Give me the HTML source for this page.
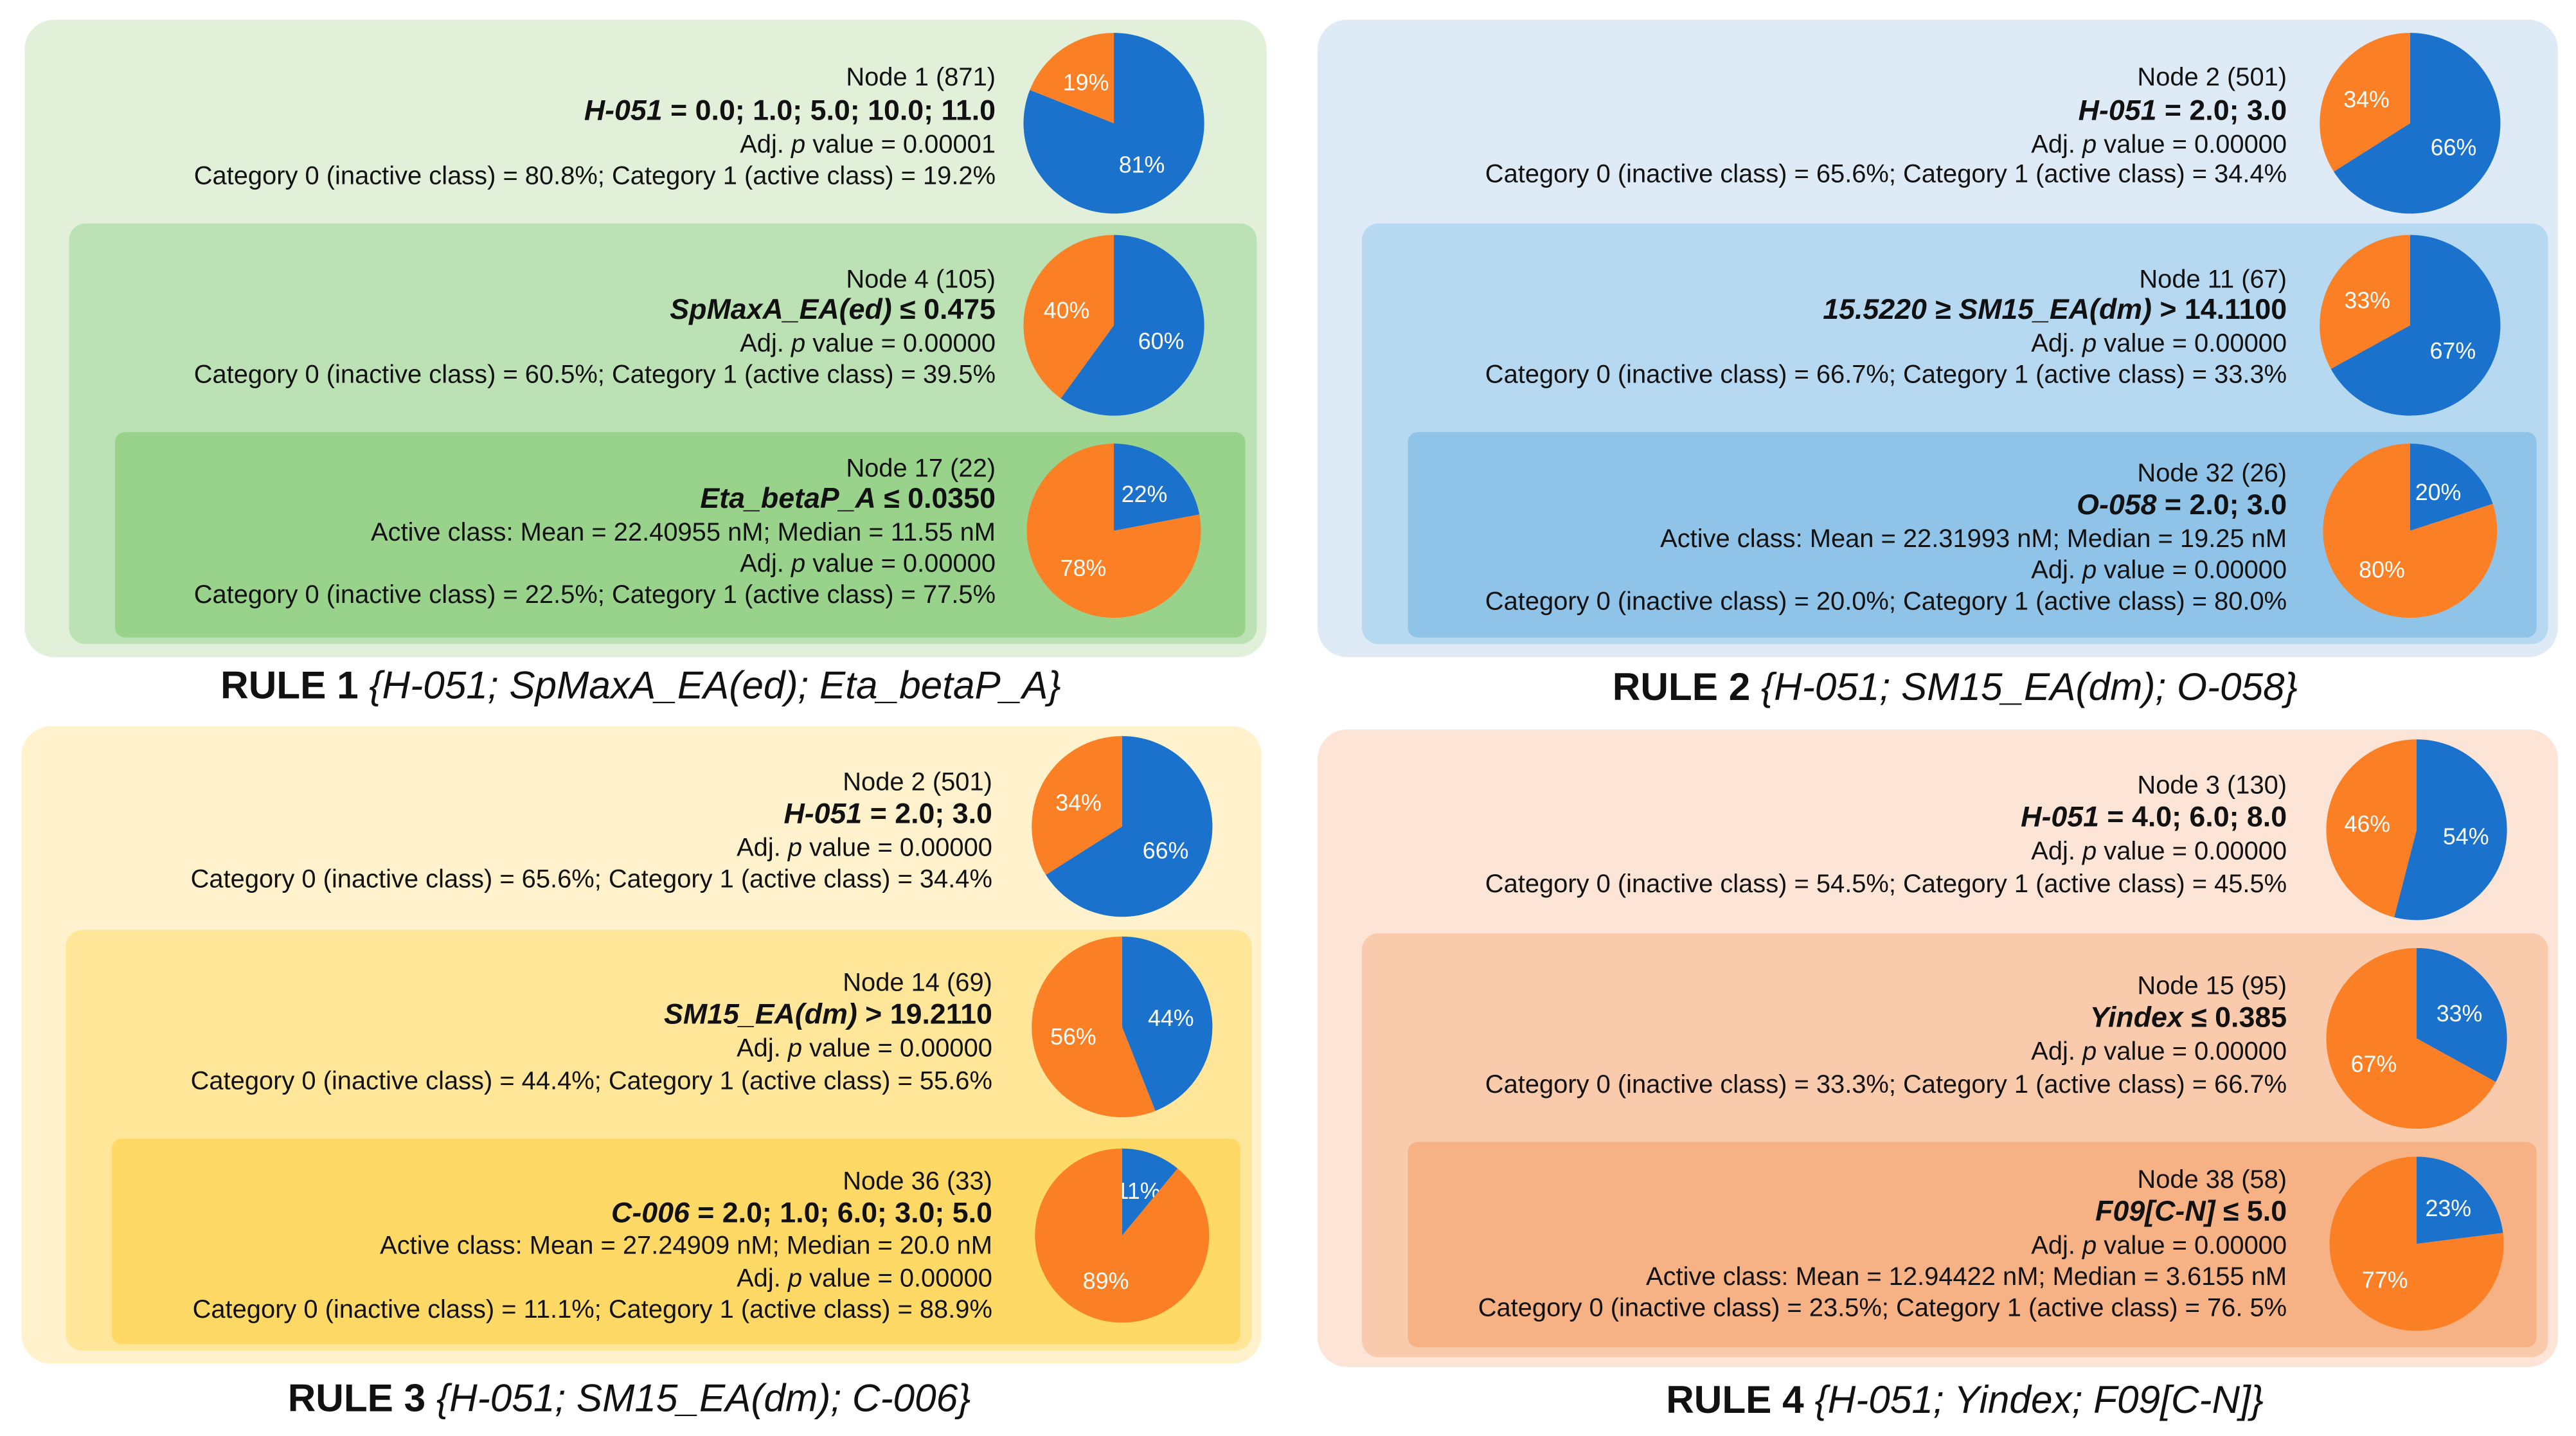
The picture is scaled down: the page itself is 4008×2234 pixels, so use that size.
<!DOCTYPE html>
<html><head><meta charset="utf-8">
<style>
html,body{margin:0;padding:0;background:#fff;}
svg{display:block;}
text{font-family:"Liberation Sans",sans-serif;fill:#111;}
</style></head>
<body>
<svg id="fig" width="4008" height="2234" viewBox="0 0 1568 874" xmlns="http://www.w3.org/2000/svg"></svg>
<script>
// ---- data ----
const ruleTitles = ["RULE 1", "RULE 2", "RULE 3", "RULE 4"];
const ruleVars = ["{H-051; SpMaxA_EA(ed); Eta_betaP_A}", "{H-051; SM15_EA(dm); O-058}", "{H-051; SM15_EA(dm); C-006}", "{H-051; Yindex; F09[C-N]}"];
const nodeLabels = [
 ["Node 1 (871)","Node 4 (105)","Node 17 (22)"],
 ["Node 2 (501)","Node 11 (67)","Node 32 (26)"],
 ["Node 2 (501)","Node 14 (69)","Node 36 (33)"],
 ["Node 3 (130)","Node 15 (95)","Node 38 (58)"]
];
const splitVar = [
 ["H-051","SpMaxA_EA(ed)","Eta_betaP_A"],
 ["H-051","15.5220 ≥ SM15_EA(dm)","O-058"],
 ["H-051","SM15_EA(dm)","C-006"],
 ["H-051","Yindex","F09[C-N]"]
];
const splitRest = [
 [" = 0.0; 1.0; 5.0; 10.0; 11.0"," ≤ 0.475"," ≤ 0.0350"],
 [" = 2.0; 3.0"," > 14.1100"," = 2.0; 3.0"],
 [" = 2.0; 3.0"," > 19.2110"," = 2.0; 1.0; 6.0; 3.0; 5.0"],
 [" = 4.0; 6.0; 8.0"," ≤ 0.385"," ≤ 5.0"]
];
const pValues = [
 ["0.00001","0.00000","0.00000"],
 ["0.00000","0.00000","0.00000"],
 ["0.00000","0.00000","0.00000"],
 ["0.00000","0.00000","0.00000"]
];
const activeStats = [
 "Active class: Mean = 22.40955 nM; Median = 11.55 nM ",
 "Active class: Mean = 22.31993 nM; Median = 19.25 nM",
 "Active class: Mean = 27.24909 nM; Median = 20.0 nM",
 "Active class: Mean = 12.94422 nM; Median = 3.6155 nM"
];
const cat0 = [
 ["80.8%","60.5%","22.5%"],
 ["65.6%","66.7%","20.0%"],
 ["65.6%","44.4%","11.1%"],
 ["54.5%","33.3%","23.5%"]
];
const cat1 = [
 ["19.2%","39.5%","77.5%"],
 ["34.4%","33.3%","80.0%"],
 ["34.4%","55.6%","88.9%"],
 ["45.5%","66.7%","76. 5%"]
];
// pie values: inactive (blue) share, active (orange) share, in percent
const bluePct = [
 [81,60,22],
 [66,67,20],
 [66,44,11],
 [54,33,23]
];
const orangePct = [
 [19,40,78],
 [34,33,80],
 [34,56,89],
 [46,67,77]
];

// ---- layout ----
const panels = [
 {x:15,y:12,w:756,h:388,c:["#e2f0da","#bce1b5","#99d38b"],tx:606,px:678,title:[390,417]},
 {x:802,y:12,w:755,h:388,c:["#deebf7","#b6d8f0","#8fc3e8"],tx:1392,px:1467,title:[1190,418]},
 {x:13,y:442,w:755,h:388,c:["#fff2cc","#ffe699","#ffd966"],tx:604,px:683,title:[383,851]},
 {x:802,y:444,w:755,h:388,c:["#fce4d6","#f9cbac","#f6b184"],tx:1392,px:1471,title:[1196,852]}
];
const NS="http://www.w3.org/2000/svg";
const svg=document.getElementById('fig');
function el(tag,attrs,parent){const e=document.createElementNS(NS,tag);for(const k in attrs)e.setAttribute(k,attrs[k]);(parent||svg).appendChild(e);return e;}
const BLUE="#1a72cc", ORANGE="#fb7f24";

function drawPie(g,cx,cy,r,b,o){
  const tot=b+o;
  const fr=[b/tot,o/tot], cols=[BLUE,ORANGE], labs=[b+"%",o+"%"];
  let a0=0;
  for(let i=0;i<2;i++){
    const a1=a0+fr[i]*2*Math.PI;
    const x0=cx+r*Math.sin(a0), y0=cy-r*Math.cos(a0);
    const x1=cx+r*Math.sin(a1), y1=cy-r*Math.cos(a1);
    const large=(a1-a0)>Math.PI?1:0;
    const p=el('path',{d:`M${cx},${cy} L${x0},${y0} A${r},${r} 0 ${large} 1 ${x1},${y1} Z`,fill:cols[i]},g);
    
    
    const am=(a0+a1)/2, lr=r*0.55;
    const t=el('text',{x:cx+lr*Math.sin(am),y:cy-lr*Math.cos(am)+5,'text-anchor':'middle','font-size':14},g);
    t.style.fill='#fff';
    t.textContent=labs[i];
    
    
    a0=a1;
  }
}

const lineYs=[
 [[47,68,88,107],[170,189,209,228],[285,304,324,343,362]],
 [[47,68,88,106],[170,189,209,228],[288,308,328,347,366]],
 [[476,496,516,535],[598,618,638,658],[719,739,758,778,797]],
 [[478,498,518,538],[600,620,640,660],[718,738,758,777,796]]
];
const pieYs=[[75,198,323],[75,198,323],[503,625,752],[505,632,757]];
const statsFirst=[true,true,true,false];

panels.forEach((P,ri)=>{
  const g=el('g',{});
  
  
  const r0=el('rect',{x:P.x,y:P.y,width:P.w,height:P.h,rx:18,fill:P.c[0]},g);
  
  
  const r1=el('rect',{x:P.x+27,y:P.y+124,width:P.w-33,height:P.h-(ri===3?6:8)-124,rx:10,fill:P.c[1]},g);
  
  
  const r2=el('rect',{x:P.x+55,y:P.y+251,width:P.w-68,height:125,rx:6,fill:P.c[2]},g);
  
  
  for(let n=0;n<3;n++){
    const ys=lineYs[ri][n]; const tx=P.tx;
    const lines=[];
    lines.push({t:nodeLabels[ri][n],k:'node'});
    lines.push({k:'split'});
    const pl={k:'p'}, st={k:'stats',t:activeStats[ri]};
    if(n===2){ if(statsFirst[ri]) lines.push(st,pl); else lines.push(pl,st);} else lines.push(pl);
    lines.push({k:'cat',t:`Category 0 (inactive class) = ${cat0[ri][n]}; Category 1 (active class) = ${cat1[ri][n]}`});
    lines.forEach((L,i)=>{
      const t=el('text',{x:tx,y:ys[i]+5,'text-anchor':'end','font-size':15.6},g);
      if(L.k==='split'){
        t.setAttribute('font-size',17.5);t.setAttribute('font-weight','bold');
        const a=el('tspan',{'font-style':'italic'},t);a.textContent=splitVar[ri][n];
        const b=el('tspan',{},t);b.textContent=splitRest[ri][n];
        
      } else if(L.k==='p'){
        const a=el('tspan',{},t);a.textContent='Adj. ';
        const b=el('tspan',{'font-style':'italic'},t);b.textContent='p';
        const c=el('tspan',{},t);c.textContent=' value = '+pValues[ri][n];
        
      } else {
        t.textContent=L.t;
        
      }
      
    });
    const pg=el('g',{},g);
    
    
    drawPie(pg,P.px,pieYs[ri][n],n===2?53:55,bluePct[ri][n],orangePct[ri][n]);
  }
  const tt=el('text',{x:P.title[0],y:P.title[1]+8,'text-anchor':'middle','font-size':23.6},g);
  const a=el('tspan',{'font-weight':'bold'},tt);a.textContent=ruleTitles[ri]+' ';
  const b=el('tspan',{'font-style':'italic'},tt);b.textContent=ruleVars[ri];
  
  
});
</script>
</body></html>
